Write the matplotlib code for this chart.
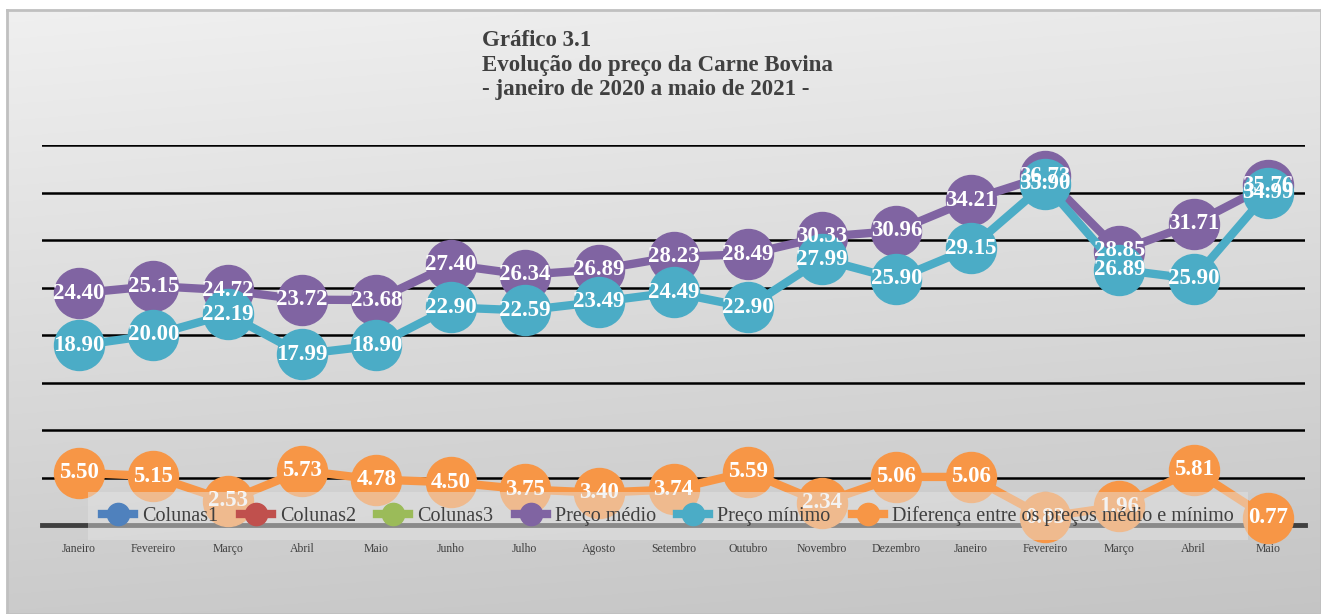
import numpy as np
import matplotlib.pyplot as plt
from matplotlib.lines import Line2D

meses = ['Janeiro', 'Fevereiro', 'Março', 'Abril', 'Maio', 'Junho', 'Julho', 'Agosto',
         'Setembro', 'Outubro', 'Novembro', 'Dezembro', 'Janeiro', 'Fevereiro', 'Março',
         'Abril', 'Maio']
preco_medio = [24.40, 25.15, 24.72, 23.72, 23.68, 27.40, 26.34, 26.89, 28.23, 28.49,
               30.33, 30.96, 34.21, 36.73, 28.85, 31.71, 35.76]
preco_minimo = [18.90, 20.00, 22.19, 17.99, 18.90, 22.90, 22.59, 23.49, 24.49, 22.90,
                27.99, 25.90, 29.15, 35.90, 26.89, 25.90, 34.99]
diferenca = [5.50, 5.15, 2.53, 5.73, 4.78, 4.50, 3.75, 3.40, 3.74, 5.59,
             2.34, 5.06, 5.06, 0.83, 1.96, 5.81, 0.77]

serif = ['Liberation Serif', 'DejaVu Serif']
W, H = 1321, 614
fig = plt.figure(figsize=(W / 100, H / 100), dpi=100)
fig.patch.set_facecolor('white')

# gradient background panel
bg = fig.add_axes([7 / W, 0, 1 - 7 / W, 1 - 10 / H], zorder=-10)
grad = np.linspace(0, 1, 256).reshape(-1, 1)
gx = np.linspace(0, 1, 256).reshape(1, -1)
g = grad * 0.85 + gx * 0.15
top, bot = np.array([0.94, 0.94, 0.94]), np.array([0.77, 0.77, 0.77])
img = top + (bot - top) * g[..., None]
bg.imshow(img, aspect='auto', extent=[0, 1, 0, 1])
bg.set_xticks([])
bg.set_yticks([])
for s in bg.spines.values():
    s.set_color('#c0c0c0')
    s.set_linewidth(2)

ax = fig.add_axes([42 / W, 1 - 525 / H, (1305 - 42) / W, (525 - 145) / H])
ax.set_facecolor('none')
x = np.arange(len(meses))
ax.set_xlim(-0.5, len(meses) - 0.5)
ax.set_ylim(0, 40)
for v in range(5, 41, 5):
    ax.axhline(v, color='black', lw=1.8, zorder=1)

series = [(preco_medio, '#8064a2'), (preco_minimo, '#4bacc6'), (diferenca, '#f79646')]
for vals, c in series:
    ax.plot(x, vals, color=c, lw=6, marker='o', ms=36, zorder=3, clip_on=False)
for vals, c in series:
    for xi, v in zip(x, vals):
        ax.text(xi, v, f'{v:.2f}', ha='center', va='center', color='white',
                fontsize=16.5, fontweight='bold', family=serif, zorder=6)

for s in ['top', 'left', 'right']:
    ax.spines[s].set_visible(False)
ax.spines['bottom'].set_color('#404040')
ax.spines['bottom'].set_linewidth(3.5)
ax.set_yticks([])
ax.set_xticks(x)
ax.set_xticklabels(meses, family=serif, fontsize=8.5, color='#404040')
ax.tick_params(axis='x', length=0, pad=13)

nomes = ['Colunas1', 'Colunas2', 'Colunas3', 'Preço médio', 'Preço mínimo',
         'Diferença entre os preços médio e mínimo']
cores = ['#4f81bd', '#c0504d', '#9bbb59', '#8064a2', '#4bacc6', '#f79646']
handles = [Line2D([], [], color=c, lw=6, marker='o', ms=16) for c in cores]
leg = fig.legend(handles, nomes, ncol=6, loc='center', bbox_to_anchor=(668 / W, 1 - 516 / H),
                 frameon=True, fancybox=False, facecolor='#e6e6e6', edgecolor='none',
                 framealpha=0.45, prop={'family': serif, 'size': 14.5}, handlelength=1.6,
                 handletextpad=0.4, columnspacing=1.05, borderpad=0.7)
for t in leg.get_texts():
    t.set_color('#404040')
leg.set_zorder(10)

fig.text(482 / W, 1 - 65 / H, 'Gráfico 3.1\nEvolução do preço da Carne Bovina\n- janeiro de 2020 a maio de 2021 -',
         ha='left', va='center', family=serif, fontsize=16.5, fontweight='bold', color='#404040',
         linespacing=1.2)

fig.savefig('out.png', dpi=100)
